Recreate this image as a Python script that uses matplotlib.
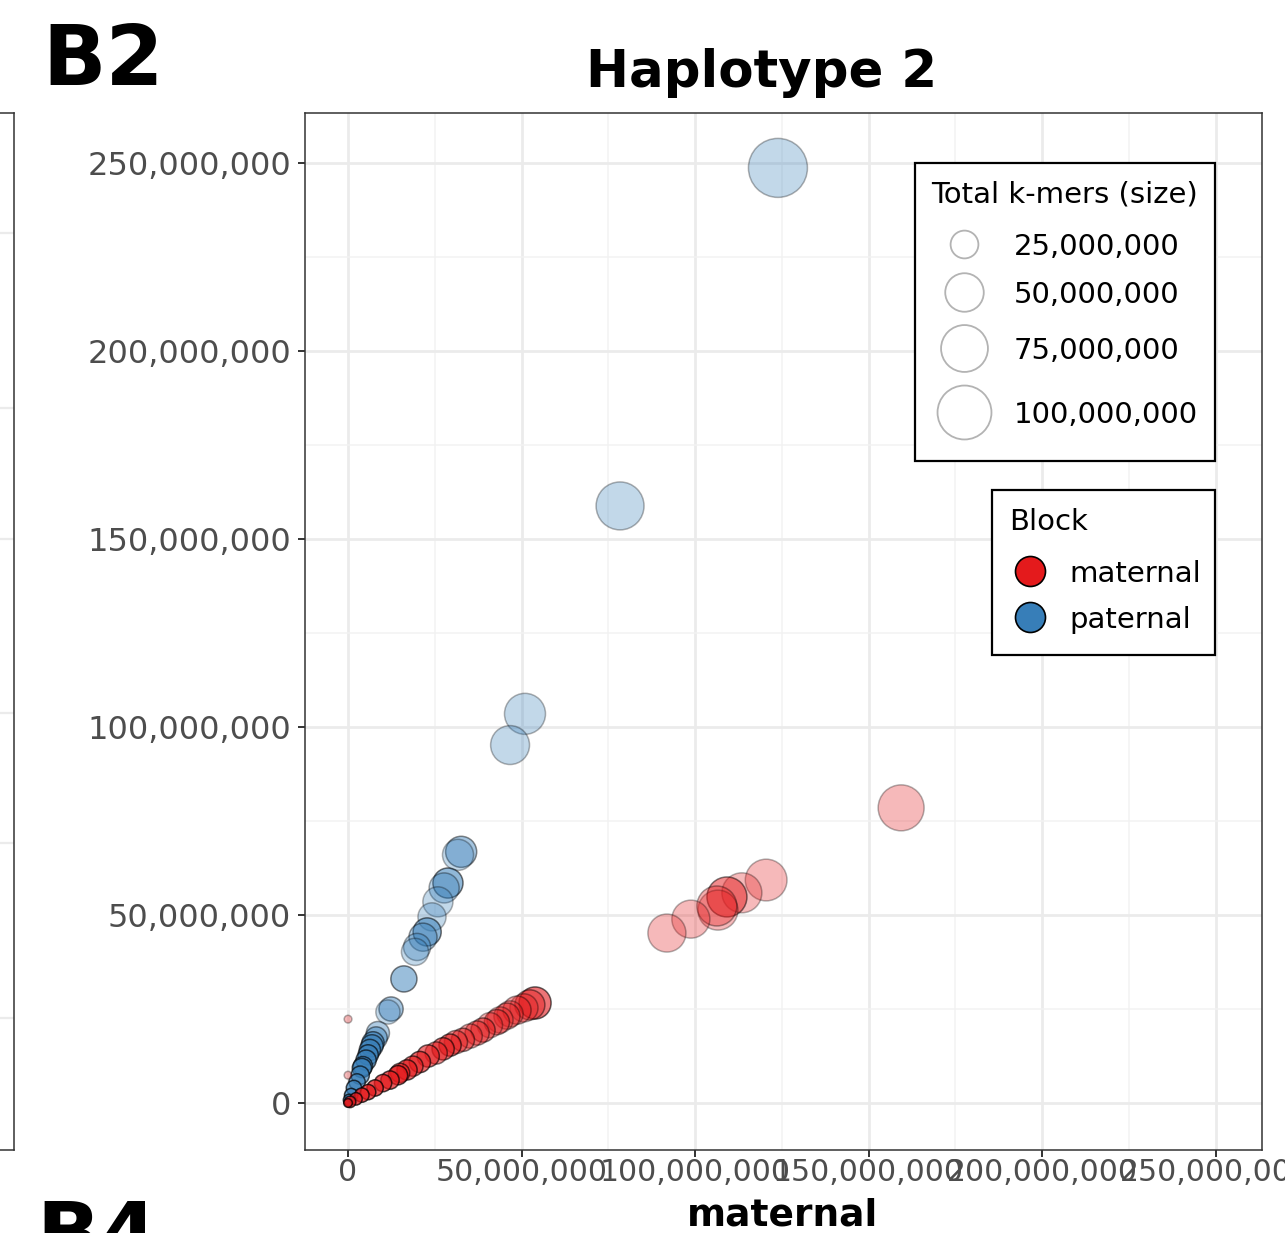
import numpy as np
import matplotlib.pyplot as plt
from matplotlib.lines import Line2D
from matplotlib.patches import Rectangle
from matplotlib.ticker import FuncFormatter, MultipleLocator

# Data, millions of k-mers
# paternal block
pat_maternal = [123.9, 78.4, 51.0, 46.7, 32.6, 31.7, 28.8, 27.7, 25.9, 24.2, 22.8, 21.6, 19.9, 19.3, 16.1, 12.4,
                11.5, 8.6, 8.1, 7.2, 6.9, 6.3, 5.8, 5.2, 4.3, 4.0, 3.5, 2.6, 1.7, 0.9, 0.3]
pat_paternal = [248.7, 158.8, 103.5, 95.2, 66.8, 66.0, 58.5, 57.2, 53.5, 49.5, 45.5, 44.1, 41.5, 40.2, 33.0, 25.0,
                24.2, 18.6, 17.3, 16.0, 15.2, 14.1, 12.8, 11.4, 9.8, 9.3, 7.4, 5.6, 4.0, 2.1, 0.8]
pat_total = [120, 78.6, 56.9, 51, 31.8, 31.8, 29.6, 29.6, 29.6, 25.6, 25.6, 25.6, 23.7, 23.7, 21.8, 18.4,
             18.4, 16.7, 15.2, 15.2, 15.2, 13.7, 12.2, 12.2, 10.9, 10.9, 9.6, 7.2, 6.1, 4.2, 2.5]
pat_weight = [0.3, 0.3, 0.3, 0.3, 0.45, 0.3, 0.55, 0.35, 0.3, 0.3, 0.55, 0.4, 0.35, 0.3, 0.5, 0.45,
              0.3, 0.4, 0.45, 0.55, 0.55, 0.6, 0.65, 0.65, 0.65, 0.65, 0.65, 0.65, 0.7, 0.75, 0.75]

# maternal block
mat_maternal = [159.4, 120.5, 113.5, 109.2, 106.6, 106.3, 98.8, 91.9,
                53.9, 52.4, 50.7, 48.7, 46.7, 45.8, 43.8, 42.9, 40.9, 38.9, 37.2, 35.2, 33.1, 31.1, 29.4, 27.4,
                25.4, 23.1, 20.7, 18.7, 17.0, 15.0, 14.4, 12.1, 10.1, 7.8, 5.8, 4.0, 2.3, 0.6,
                0.0, 0.0, 0.0]
mat_paternal = [78.5, 59.3, 55.9, 54.8, 51.3, 52.4, 48.9, 45.2,
                26.6, 26.1, 25.3, 24.7, 23.7, 23.1, 22.1, 21.5, 20.7, 19.4, 18.6, 17.8, 16.8, 16.2, 15.4, 14.4,
                13.3, 12.5, 10.9, 9.8, 8.8, 8.0, 7.4, 6.1, 5.3, 4.0, 2.9, 2.1, 1.1, 0.3,
                22.3, 7.4, 0.0]
mat_total = [72, 59, 54, 54, 54, 54, 48.6, 48.6,
             34, 29.6, 25.6, 25.6, 21.8, 21.8, 21.8, 20.1, 20.1, 18.4, 18.4, 18.4, 16.7, 16.7, 15.2, 15.2,
             15.2, 15.2, 13.7, 12.2, 12.2, 10.9, 10.9, 9.6, 8.4, 7.2, 6.1, 5.1, 3.3, 2.5,
             0.0, 0.0, 0.5]
mat_weight = [0.3, 0.3, 0.3, 0.5, 0.3, 0.35, 0.3, 0.3,
              0.6, 0.45, 0.35, 0.4, 0.35, 0.4, 0.35, 0.45, 0.35, 0.5, 0.45, 0.4, 0.5, 0.45, 0.6, 0.6,
              0.5, 0.6, 0.65, 0.6, 0.65, 0.6, 0.7, 0.7, 0.7, 0.75, 0.75, 0.75, 0.75, 0.75,
              0.3, 0.3, 0.75]

size_breaks = [25e6, 50e6, 75e6, 100e6]
axis_ticks = [0, 50e6, 100e6, 150e6, 200e6, 250e6]
block_names = ["maternal", "paternal"]
block_colors = {"maternal": "#E41A1C", "paternal": "#377EB8"}


# Functions
def marker_px(total):
    # marker area grows linearly with total k-mers, diameter in pixels
    return np.sqrt(60 + 28.5 * np.asarray(total, dtype=float) / 1e6)

def rgba(color, alphas):
    base = np.array(plt.matplotlib.colors.to_rgba(color))
    out = np.tile(base, (len(alphas), 1))
    out[:, 3] = alphas
    return out

def fpos(x, y):
    # pixel position -> figure fraction
    return x / 1285, 1 - y / 1233

def legend_box(x0, y0, x1, y1):
    fx0, fy1 = fpos(x0, y0)
    fx1, fy0 = fpos(x1, y1)
    fig.add_artist(Rectangle((fx0, fy0), fx1 - fx0, fy1 - fy0, transform=fig.transFigure,
                             facecolor="white", edgecolor="black", lw=1.6, zorder=5))

def legend_key(x, y, d_px, **kw):
    fx, fy = fpos(x, y)
    fig.add_artist(Line2D([fx], [fy], transform=fig.transFigure, ls="", marker="o",
                          markersize=d_px * 0.72, zorder=6, **kw))

def legend_text(x, y, s):
    fx, fy = fpos(x, y)
    fig.text(fx, fy, s, ha="left", va="center_baseline", fontsize=21, zorder=7)

comma = FuncFormatter(lambda v, p: "{:,.0f}".format(v))


# Figure
fig = plt.figure(figsize=(12.85, 12.33), dpi=100)
ax = fig.add_axes([305/1285, 1-1150/1233, 957/1285, 1037/1233])

# fragment of neighbouring panel on the left
ax0 = fig.add_axes([-0.2, 1-1150/1233, 0.2+14/1285, 1037/1233])
ax0.set_ylim(1150, 113)
ax0.set_yticks([233, 408, 539, 713, 843, 1018])
ax0.grid(True, axis="y", color="#EBEBEB", lw=1.6)
ax0.tick_params(left=False, labelleft=False, bottom=False, labelbottom=False)
for s in ax0.spines.values():
    s.set_color("#333333")
    s.set_linewidth(1.1)

ax.set_axisbelow(True)
ax.xaxis.set_minor_locator(MultipleLocator(25e6))
ax.yaxis.set_minor_locator(MultipleLocator(25e6))
ax.set_xticks(axis_ticks)
ax.set_yticks(axis_ticks)
ax.xaxis.set_major_formatter(comma)
ax.yaxis.set_major_formatter(comma)
ax.grid(True, which="major", color="#EBEBEB", lw=2.0)
ax.grid(True, which="minor", color="#F2F2F2", lw=1.1)
ax.set_xlim(-12.4e6, 263.4e6)
ax.set_ylim(-12.5e6, 263.3e6)
for s in ax.spines.values():
    s.set_color("#333333")
    s.set_linewidth(1.1)
ax.tick_params(which="major", length=5, width=1.4, color="#333333", labelcolor="#4D4D4D", labelsize=23)
ax.tick_params(axis="x", pad=1, labelsize=21.5)
ax.tick_params(axis="y", pad=5)
ax.tick_params(which="minor", length=0)

# points
for name, xs, ys, tot, w in [("paternal", pat_maternal, pat_paternal, pat_total, pat_weight),
                             ("maternal", mat_maternal, mat_paternal, mat_total, mat_weight)]:
    xs = np.array(xs) * 1e6
    ys = np.array(ys) * 1e6
    tot = np.array(tot) * 1e6
    ax.scatter(xs, ys, s=(marker_px(tot) * 0.72) ** 2, facecolors=rgba(block_colors[name], w),
               edgecolors=rgba("black", w), linewidths=1.1, zorder=3)

# size legend
legend_box(915, 163, 1215, 461)
legend_text(931, 192, "Total k-mers (size)")
for b, y in zip(size_breaks, [244, 292, 348, 412]):
    legend_key(964, y, marker_px(b), markerfacecolor="none", markeredgecolor="#B3B3B3", markeredgewidth=1.3)
    legend_text(1014, y, "{:,.0f}".format(b))

# block legend
legend_box(992, 490, 1215, 655)
legend_text(1009, 519, "Block")
for n, y in zip(block_names, [571, 617]):
    legend_key(1030, y, 30, markerfacecolor=block_colors[n], markeredgecolor="black", markeredgewidth=1.2)
    legend_text(1069, y, n)

# texts
fig.text(762/1285, 1-87/1233, "Haplotype 2", ha="center", va="baseline", fontsize=37, fontweight="bold")
fig.text(783/1285, 1-1226/1233, "maternal", ha="center", va="baseline", fontsize=27, fontweight="bold")
fig.text(42/1285, 1-85/1233, "B2", ha="left", va="baseline", fontsize=60, fontweight="bold")
fig.text(36/1285, 1-1262/1233, "B4", ha="left", va="baseline", fontsize=60, fontweight="bold")

fig.savefig("out.png", dpi=100)
